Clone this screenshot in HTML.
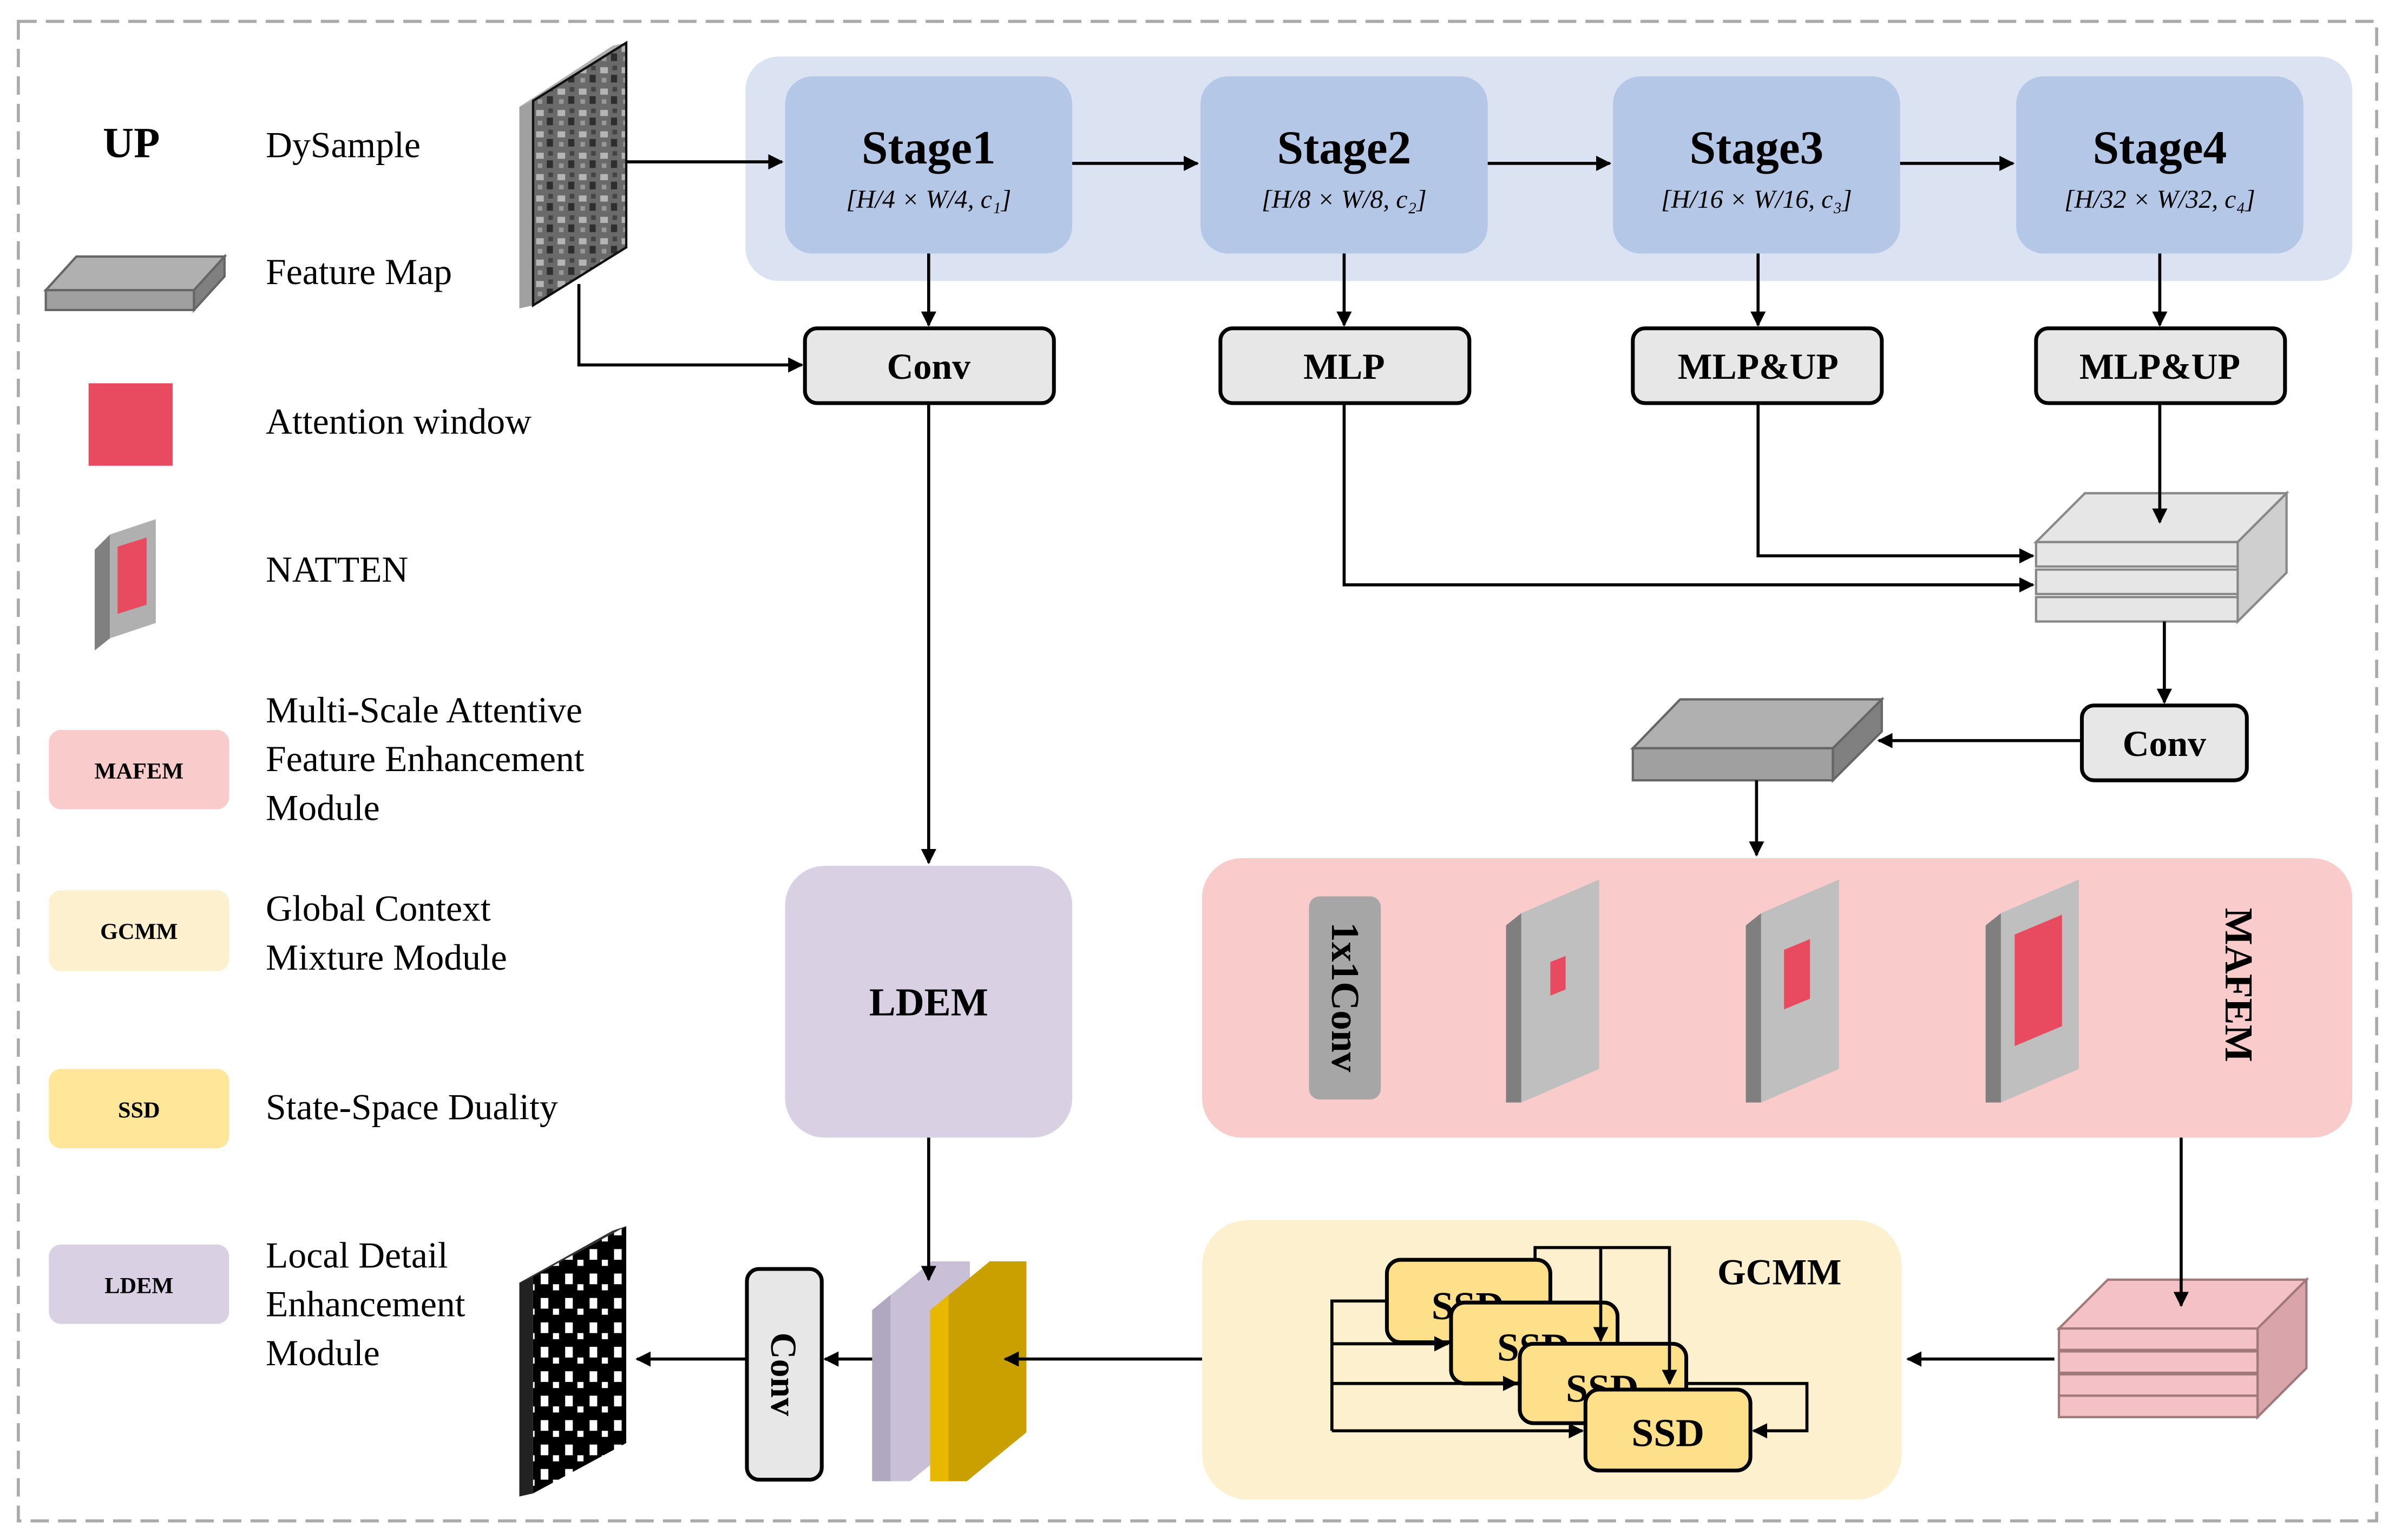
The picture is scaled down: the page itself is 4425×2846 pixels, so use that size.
<!DOCTYPE html>
<html><head><meta charset="utf-8"><style>
html,body{margin:0;padding:0;background:#fff;}
svg{display:block;}
text{font-family:"Liberation Serif",serif;}
</style></head><body>
<svg width="4425" height="2846" viewBox="0 0 1568 1008.5" preserveAspectRatio="none" xmlns="http://www.w3.org/2000/svg">
<defs>
<marker id="ar" viewBox="0 0 10 10" refX="9" refY="5" markerWidth="5" markerHeight="5" orient="auto"><path d="M0,0 L10,5 L0,10 z" fill="#000"/></marker>
<pattern id="sat" width="14" height="14" patternUnits="userSpaceOnUse">
<rect width="14" height="14" fill="#6a6a6a"/><rect x="1" y="2" width="5" height="4" fill="#b5b5b5"/><rect x="8" y="7" width="4" height="5" fill="#2e2e2e"/><rect x="2" y="9" width="3" height="3" fill="#999"/><rect x="9" y="1" width="3" height="3" fill="#444"/>
</pattern>
<pattern id="blk" width="16" height="16" patternUnits="userSpaceOnUse">
<rect width="16" height="16" fill="#000"/><rect x="2" y="2" width="5" height="7" fill="#fff"/><rect x="10" y="9" width="4" height="4" fill="#fff"/>
</pattern>
</defs>
<rect x="12" y="14" width="1544" height="982" fill="none" stroke="#aaa" stroke-width="2" stroke-dasharray="12,6"/>

<!-- legend -->
<text x="86" y="103" font-size="28" font-weight="bold" text-anchor="middle">UP</text>
<text x="174" y="103" font-size="24">DySample</text>
<polygon points="30,190 50,168 147,168 127,190" fill="#b0b0b0" stroke="#666" stroke-width="1.5"/>
<rect x="30" y="190" width="97" height="13" fill="#a0a0a0" stroke="#666" stroke-width="1.5"/>
<polygon points="127,190 147,168 147,181 127,203" fill="#808080" stroke="#666" stroke-width="1.5"/>
<text x="174" y="186" font-size="24">Feature Map</text>
<rect x="58" y="251" width="55" height="54" fill="#e84a5f"/>
<text x="174" y="284" font-size="24">Attention window</text>
<polygon points="62,360 72,350 72,418 62,426" fill="#808080"/>
<polygon points="72,350 102,340 102,408 72,418" fill="#b0b0b0"/>
<polygon points="77,358 96,352 96,396 77,402" fill="#e84a5f"/>
<text x="174" y="381" font-size="24">NATTEN</text>
<rect x="32" y="478" width="118" height="52" rx="8" fill="#f9cbcb"/>
<text x="91" y="510" font-size="15" font-weight="bold" text-anchor="middle">MAFEM</text>
<text x="174" y="473" font-size="24">Multi-Scale Attentive</text>
<text x="174" y="505" font-size="24">Feature Enhancement</text>
<text x="174" y="537" font-size="24">Module</text>
<rect x="32" y="583" width="118" height="53" rx="8" fill="#fdf0cf"/>
<text x="91" y="615" font-size="15" font-weight="bold" text-anchor="middle">GCMM</text>
<text x="174" y="603" font-size="24">Global Context</text>
<text x="174" y="635" font-size="24"> Mixture Module</text>
<rect x="32" y="700" width="118" height="52" rx="8" fill="#ffe699"/>
<text x="91" y="732" font-size="15" font-weight="bold" text-anchor="middle">SSD</text>
<text x="174" y="733" font-size="24">State-Space Duality</text>
<rect x="32" y="815" width="118" height="52" rx="8" fill="#d9d0e3"/>
<text x="91" y="847" font-size="15" font-weight="bold" text-anchor="middle">LDEM</text>
<text x="174" y="830" font-size="24">Local Detail</text>
<text x="174" y="862" font-size="24">Enhancement</text>
<text x="174" y="894" font-size="24">Module</text>

<!-- input image -->
<polygon points="340,70 401,30 410,28 349,66" fill="#b0b0b0"/>
<polygon points="340,70 349,66 349,200 340,202" fill="#a0a0a0"/>
<polygon points="349,66 410,28 410,162 349,200" fill="url(#sat)" stroke="#111" stroke-width="1.5"/>

<!-- encoder -->
<rect x="488" y="37" width="1052" height="147" rx="22" fill="#dbe3f3"/>
<g font-weight="bold" font-size="31" text-anchor="middle">
<rect x="514" y="50" width="188" height="116" rx="18" fill="#b4c7e7"/><text x="608" y="107">Stage1</text>
<rect x="786" y="50" width="188" height="116" rx="18" fill="#b4c7e7"/><text x="880" y="107">Stage2</text>
<rect x="1056" y="50" width="188" height="116" rx="18" fill="#b4c7e7"/><text x="1150" y="107">Stage3</text>
<rect x="1320" y="50" width="188" height="116" rx="18" fill="#b4c7e7"/><text x="1414" y="107">Stage4</text>
</g>
<g font-size="17" font-style="italic" text-anchor="middle">
<text x="608" y="136">[H/4 × W/4, c₁]</text>
<text x="880" y="136">[H/8 × W/8, c₂]</text>
<text x="1150" y="136">[H/16 × W/16, c₃]</text>
<text x="1414" y="136">[H/32 × W/32, c₄]</text>
</g>
<g fill="#e7e7e7" stroke="#000" stroke-width="2.5">
<rect x="527" y="215" width="163" height="49" rx="8"/>
<rect x="799" y="215" width="163" height="49" rx="8"/>
<rect x="1069" y="215" width="163" height="49" rx="8"/>
<rect x="1333" y="215" width="163" height="49" rx="8"/>
<rect x="1363" y="462" width="108" height="49" rx="8"/>
</g>
<g font-weight="bold" font-size="24" text-anchor="middle">
<text x="608" y="248">Conv</text><text x="880" y="248">MLP</text><text x="1151" y="248">MLP&amp;UP</text><text x="1414" y="248">MLP&amp;UP</text><text x="1417" y="495">Conv</text>
</g>

<!-- gray stack -->
<g stroke="#888" stroke-width="1.5">
<polygon points="1333,355 1365,323 1497,323 1465,355" fill="#e6e6e6"/>
<polygon points="1465,355 1497,323 1497,375 1465,407" fill="#cfcfcf"/>
<rect x="1333" y="355" width="132" height="16" fill="#e6e6e6"/>
<rect x="1333" y="373" width="132" height="16" fill="#e6e6e6"/>
<rect x="1333" y="391" width="132" height="16" fill="#e6e6e6"/>
</g>
<!-- feature map -->
<g stroke="#666" stroke-width="1.5">
<polygon points="1069,490 1100,458 1232,458 1200,490" fill="#b0b0b0"/>
<rect x="1069" y="490" width="131" height="21" fill="#a0a0a0"/>
<polygon points="1200,490 1232,458 1232,479 1200,511" fill="#808080"/>
</g>

<!-- MAFEM -->
<rect x="787" y="562" width="753" height="183" rx="26" fill="#f9cbcb"/>
<rect x="857" y="587" width="47" height="133" rx="7" fill="#a6a6a6"/>
<text transform="translate(872,653) rotate(90)" font-size="26" font-weight="bold" text-anchor="middle">1x1Conv</text>
<text transform="translate(1457,645) rotate(90)" font-size="26" font-weight="bold" text-anchor="middle">MAFEM</text>
<g>
<polygon points="986,606 996,598 996,722 986,722" fill="#7f7f7f"/>
<polygon points="996,598 1047,576 1047,700 996,722" fill="#bfbfbf"/>
<polygon points="1015,630 1025,626 1025,648 1015,652" fill="#e84a5f"/>
<polygon points="1143,606 1153,598 1153,722 1143,722" fill="#7f7f7f"/>
<polygon points="1153,598 1204,576 1204,700 1153,722" fill="#bfbfbf"/>
<polygon points="1168,622 1185,615 1185,654 1168,661" fill="#e84a5f"/>
<polygon points="1300,606 1310,598 1310,722 1300,722" fill="#7f7f7f"/>
<polygon points="1310,598 1361,576 1361,700 1310,722" fill="#bfbfbf"/>
<polygon points="1319,612 1350,599 1350,672 1319,685" fill="#e84a5f"/>
</g>

<!-- LDEM -->
<rect x="514" y="567" width="188" height="178" rx="26" fill="#d9d0e3"/>
<text x="608" y="665" font-size="26" font-weight="bold" text-anchor="middle">LDEM</text>

<!-- pink stack -->
<g stroke="#a07a7a" stroke-width="1.5">
<polygon points="1348,870 1380,838 1510,838 1478,870" fill="#f4c2c6"/>
<polygon points="1478,870 1510,838 1510,896 1478,928" fill="#d9a5aa"/>
<rect x="1348" y="870" width="130" height="14" fill="#f4c2c6"/>
<rect x="1348" y="885" width="130" height="14" fill="#f4c2c6"/>
<rect x="1348" y="900" width="130" height="14" fill="#f4c2c6"/>
<rect x="1348" y="914" width="130" height="14" fill="#f4c2c6"/>
</g>

<!-- GCMM -->
<rect x="787" y="799" width="458" height="183" rx="30" fill="#fdf0cf"/>
<text x="1165" y="841" font-size="24" font-weight="bold" text-anchor="middle">GCMM</text>
<g stroke="#000" stroke-width="2" fill="none">
<polyline points="1005,852 1005,817 1093,817 1093,880"/>
<line x1="1048" y1="817" x2="1048" y2="852"/>
</g>
<rect x="908" y="825" width="107" height="54" rx="9" fill="#ffe08a" stroke="#000" stroke-width="2.5"/>
<text x="961" y="864" font-size="26" font-weight="bold" text-anchor="middle">SSD</text>
<rect x="950" y="853" width="109" height="53" rx="9" fill="#ffe08a" stroke="#000" stroke-width="2.5"/>
<text x="1004" y="891" font-size="26" font-weight="bold" text-anchor="middle">SSD</text>
<rect x="995" y="880" width="109" height="52" rx="9" fill="#ffe08a" stroke="#000" stroke-width="2.5"/>
<text x="1049" y="918" font-size="26" font-weight="bold" text-anchor="middle">SSD</text>
<rect x="1038" y="910" width="108" height="53" rx="9" fill="#ffe08a" stroke="#000" stroke-width="2.5"/>
<text x="1092" y="947" font-size="26" font-weight="bold" text-anchor="middle">SSD</text>
<g stroke="#000" stroke-width="2" fill="none" marker-end="url(#ar)">
<line x1="1048" y1="852" x2="1048" y2="878"/>
<line x1="1093" y1="880" x2="1093" y2="906"/>
<polyline points="1104,906 1183,906 1183,937 1148,937"/>
<line x1="872" y1="880" x2="948" y2="880"/>
<line x1="872" y1="906" x2="993" y2="906"/>
<line x1="872" y1="937" x2="1036" y2="937"/>
</g>
<polyline points="908,852 872,852 872,937" stroke="#000" stroke-width="2" fill="none"/>

<!-- concat panels -->
<polygon points="571,858 610,826 635,826 635,938 596,970 571,970" fill="#c9c0d8"/>
<polygon points="571,858 583,848 583,970 571,970" fill="#b0a7c0"/>
<polygon points="609,858 648,826 672,826 672,938 633,970 609,970" fill="#c9a000"/>
<polygon points="609,858 621,848 621,970 609,970" fill="#e8b800"/>

<!-- conv vertical -->
<rect x="489" y="831" width="49" height="138" rx="8" fill="#e7e7e7" stroke="#000" stroke-width="2.5"/>
<text transform="translate(505,900) rotate(90)" font-size="24" font-weight="bold" text-anchor="middle">Conv</text>

<!-- output -->
<polygon points="340,840 401,806 410,803 349,836" fill="#333"/>
<polygon points="340,840 349,836 349,978 340,980" fill="#222"/>
<polygon points="349,836 410,803 410,945 349,978" fill="url(#blk)"/>

<!-- connectors on top -->
<g stroke="#000" stroke-width="2" fill="none" marker-end="url(#ar)">
<line x1="410" y1="106" x2="512" y2="106"/>
<polyline points="379,186 379,239 525,239"/>
<line x1="702" y1="107" x2="784" y2="107"/>
<line x1="974" y1="107" x2="1054" y2="107"/>
<line x1="1244" y1="107" x2="1318" y2="107"/>
<line x1="608" y1="166" x2="608" y2="213"/>
<line x1="880" y1="166" x2="880" y2="213"/>
<line x1="1151" y1="166" x2="1151" y2="213"/>
<line x1="1414" y1="166" x2="1414" y2="213"/>
<line x1="608" y1="264" x2="608" y2="565"/>
<polyline points="880,264 880,383 1331,383"/>
<polyline points="1151,264 1151,364 1331,364"/>
<line x1="1414" y1="264" x2="1414" y2="342"/>
<line x1="1417" y1="407" x2="1417" y2="460"/>
<line x1="1363" y1="485" x2="1230" y2="485"/>
<line x1="1150" y1="511" x2="1150" y2="560"/>
<line x1="608" y1="745" x2="608" y2="838"/>
<line x1="1428" y1="745" x2="1428" y2="855"/>
<line x1="1345" y1="890" x2="1249" y2="890"/>
<line x1="787" y1="890" x2="658" y2="890"/>
<line x1="571" y1="890" x2="540" y2="890"/>
<line x1="489" y1="890" x2="417" y2="890"/>
</g>
</svg>
</body></html>
